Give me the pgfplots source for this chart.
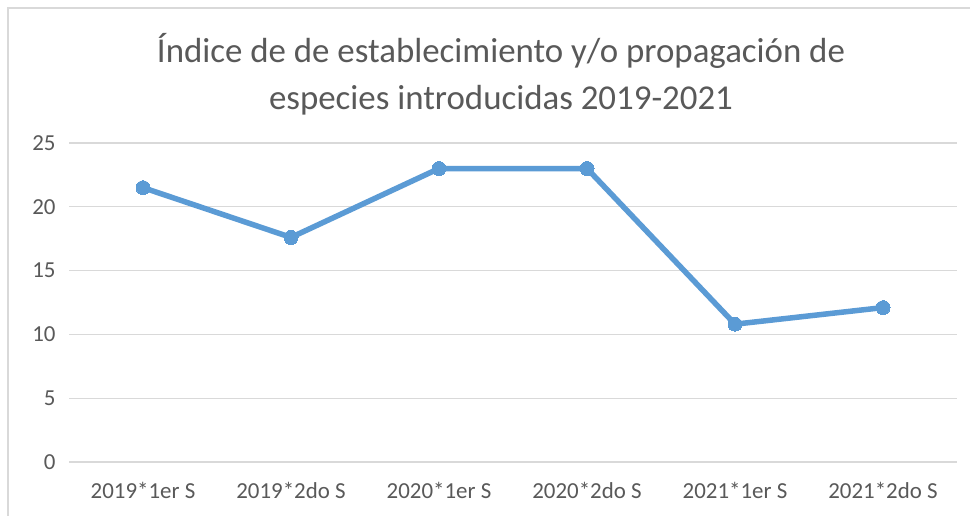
\documentclass[border=0pt]{standalone}
\usepackage{pgfplots}
\pgfplotsset{compat=1.18}
\usepackage{fontspec}
\setmainfont{Carlito}
\definecolor{txt}{HTML}{595959}
\definecolor{gridc}{HTML}{D9D9D9}
\definecolor{ser}{HTML}{5B9BD5}
\begin{document}
\begin{tikzpicture}[x=1bp,y=1bp]
\useasboundingbox (0,0) rectangle (970,516);
\clip (0,0) rectangle (970,516);
\fill[white] (0,0) rectangle (970,516);
\draw[gridc, line width=1.5bp] (8,-10) rectangle (985,508);
\node[text=txt, font=\fontsize{35}{47}\selectfont, align=center] at (501,442) {Índice de de establecimiento y/o propagación de\\especies introducidas 2019-2021};
\begin{axis}[
  at={(69bp,54bp)}, anchor=south west,
  scale only axis, width=888bp, height=319bp,
  xmin=-0.5, xmax=5.5, ymin=0, ymax=25,
  xtick={0,1,2,3,4,5},
  xticklabels={2019*1er S,2019*2do S,2020*1er S,2020*2do S,2021*1er S,2021*2do S},
  ytick={0,5,10,15,20,25},
  axis line style={draw=none},
  major tick length=0pt,
  ymajorgrids, grid style={gridc, line width=1.2bp},
  tick label style={text=txt, font=\fontsize{23}{25}\selectfont},
  /pgf/number format/assume math mode=true,
  xticklabel shift=17bp,
  yticklabel shift=10bp,
  clip=false,
]
\addplot[ser, line width=5.5bp, mark=*, mark size=7bp, mark options={fill=ser, draw=ser, line width=0pt}]
 coordinates {(0,21.5) (1,17.6) (2,23) (3,23) (4,10.8) (5,12.1)};
\end{axis}
\end{tikzpicture}
\end{document}
